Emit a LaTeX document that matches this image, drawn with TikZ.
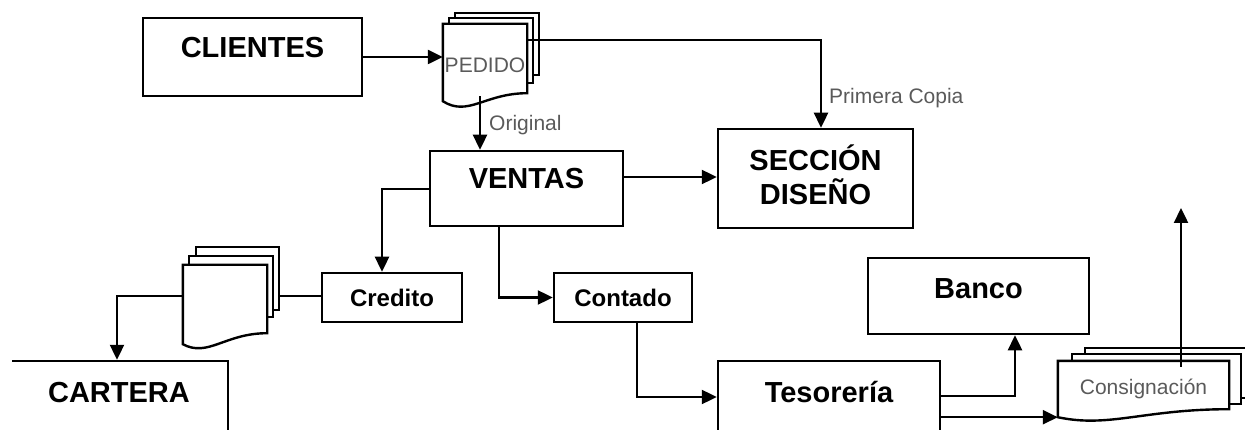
\documentclass[tikz,border=0pt]{standalone}
\usepackage{fontspec}
\setmainfont{Liberation Sans}
\usetikzlibrary{arrows.meta,calc,backgrounds}

\definecolor{labelgrey}{HTML}{5A5A5A}

\tikzset{
  flow/.style={line width=2.4pt, -{Triangle[length=15pt,width=14pt]}},
  link/.style={line width=2.4pt},
  box/.style={draw, line width=2.5pt, fill=white, inner sep=0pt,
    font=\fontsize{29}{34}\selectfont\bfseries},
  smallbox/.style={box, font=\fontsize{24}{28}\selectfont\bfseries},
  sheet/.style={draw, line width=2.4pt, fill=white},
  docnode/.style={inner sep=0pt, text=labelgrey, font=\fontsize{21}{24}\selectfont},
  note/.style={inner sep=0pt, anchor=west, text=labelgrey, font=\fontsize{21}{24}\selectfont},
}

% Front sheet of a document symbol: rectangle with a wavy lower edge.
% #1 node, #2 rise of the lower right corner, #3 depth of the wave
\newcommand\docfront[3]{%
  \path[sheet] let \p1=(#1.north west), \p2=(#1.south east) in
    (\x2,\y2+#2pt) -- (\x2,\y1) -- (\x1,\y1) -- (\x1,\y2)
    .. controls ({\x1+0.3*(\x2-\x1)},{\y2-#3pt}) and ({\x1+0.5*(\x2-\x1)},{\y2+#2pt}) .. (\x2,\y2+#2pt) -- cycle;
}

\begin{document}
\begin{tikzpicture}[x=1pt,y=-1pt]
\useasboundingbox (0,0) rectangle (1245,430);
\clip (12,0) rectangle (1245,430);

% process boxes
\node[box, minimum width=219pt, minimum height=78pt, text height=21pt, text depth=20pt] (cli) at (252.5,57) {CLIENTES};
\node[box, minimum width=193pt, minimum height=75pt, text height=21pt, text depth=21pt] (ven) at (526.5,188.5) {VENTAS};
\node[box, minimum width=195pt, minimum height=99pt, align=center, text depth=8pt] (sec) at (815.5,178.5) {SECCIÓN\\DISEÑO};
\node[smallbox, minimum width=140pt, minimum height=49pt] (cre) at (392,297.5) {Credito};
\node[smallbox, minimum width=138pt, minimum height=49pt] (con) at (623,297.5) {Contado};
\node[box, minimum width=221pt, minimum height=76pt, text height=21pt, text depth=16pt] (ban) at (978.5,296) {Banco};
\node[box, minimum width=222pt, minimum height=99pt, text height=21pt, text depth=37pt] (tes) at (829,410.5) {Tesorería};
\node[box, minimum width=218pt, minimum height=99pt, text height=21pt, text depth=37pt] (car) at (119,410.5) {CARTERA};

% documents (front sheet carries the name)
\node[docnode, minimum width=84pt, minimum height=77pt, text height=20pt, text depth=0pt] (ped) at (485,62.5) {PEDIDO};
\node[docnode, minimum width=84pt, minimum height=79pt] (crd) at (225,304.5) {};
\node[docnode, minimum width=171pt, minimum height=56pt] (cns) at (1143.5,389) {Consignación};

\begin{scope}[on background layer]
  % PEDIDO stack
  \draw[sheet] (455,13) rectangle (539,75);
  \draw[sheet] (449,18) rectangle (533,83);
  \docfront{ped}{8}{16}
  % credit stack
  \draw[sheet] (196,247) rectangle (279,310);
  \draw[sheet] (189,256) rectangle (273,317);
  \docfront{crd}{11}{13.5}
  % consignment stack
  \draw[sheet] (1085,348) rectangle (1255,398);
  \draw[sheet] (1072,354) rectangle (1241,404);
  \docfront{cns}{8}{11}
\end{scope}

% connectors
\draw[flow] (cli.east) -- (ped.west |- cli.east);
\coordinate (copyout) at ($(ped.north east)!0.208!(ped.south east)$);
\coordinate (secin) at ($(sec.north)+(5.5,0)$);
\draw[flow] (copyout) -| (secin);
\node[note] (primera) at (829,98) {Primera Copia};
\coordinate (pedout) at ($(ped.south)+(-5,-5)$);
\draw[flow] (pedout) -- (pedout |- ven.north);
\node[note] (original) at (489,125) {Original};
\draw[flow] (ven.east |- 0,177) -- (sec.west |- 0,177);
\coordinate (crein) at ($(cre.north)+(-10,0)$);
\draw[flow] (ven.west |- 0,189) -| (crein);
\draw[flow] (ven.south -| 499,0) |- (con.west);
\coordinate (crdback) at (279,296);
\draw[link] (cre.west |- crdback) -- (crdback);
\coordinate (carin) at ($(car.north)+(-2,0)$);
\draw[flow] (crd.west |- crdback) -| (carin);
\coordinate (conout) at ($(con.south)+(14,0)$);
\draw[flow] (conout) |- (tes.west |- 0,397);
\coordinate (banin) at ($(ban.south)+(36.5,0)$);
\draw[flow] (tes.east |- 0,396) -| (banin);
\draw[flow] (tes.east |- cns.south west) -- (cns.south west);
\coordinate (cnsout) at ($(cns.north)+(37.5,6)$);
\coordinate (upout) at (1181,208);
\draw[flow] (cnsout) -- (upout);
\end{tikzpicture}
\end{document}
